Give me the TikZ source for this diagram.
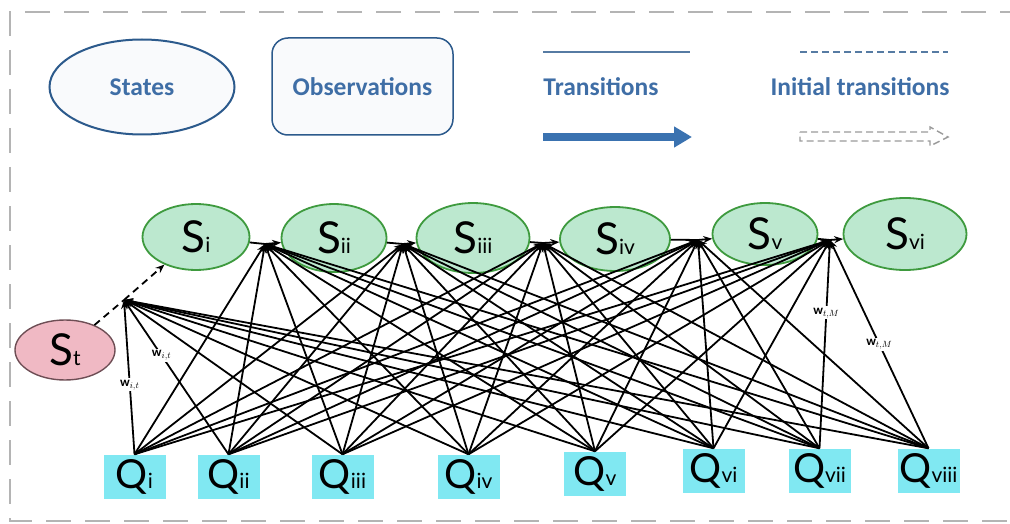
\documentclass[tikz,border=0pt]{standalone}
\usepackage{fontspec}
\setmainfont{Carlito}
\newfontfamily\nodefont{Lato}
\usetikzlibrary{arrows.meta,shapes.geometric}
\definecolor{legblue}{HTML}{2C5A8C}
\definecolor{legtext}{HTML}{3F6EA6}
\definecolor{legfill}{HTML}{F9FAFC}
\definecolor{arrblue}{HTML}{3A72B0}
\definecolor{stategreen}{HTML}{3E9A3E}
\definecolor{statefill}{HTML}{BCE8CF}
\definecolor{initfill}{HTML}{F0B9C4}
\definecolor{initdraw}{HTML}{6E4E55}
\definecolor{obsfill}{HTML}{80E8F2}
\definecolor{bordergray}{HTML}{B4B4B4}
\definecolor{dashgray}{HTML}{9A9A9A}
\newcommand\stxt[1]{{\nodefont\fontsize{44}{44}\selectfont S\fontsize{21}{21}\selectfont #1}}
\newcommand\qtxt[1]{{\nodefont\fontsize{40}{40}\selectfont Q\fontsize{21}{21}\selectfont #1}}
\begin{document}
\begin{tikzpicture}[x=1pt,y=-1pt,
  stnode/.style={ellipse, draw=stategreen, line width=1.8pt, fill=statefill, inner sep=0pt},
  obsnode/.style={rectangle, fill=obsfill, minimum width=62pt, minimum height=44pt, inner sep=0pt},
  wire/.style={line width=1.8pt, -{Stealth[length=9pt,width=7pt]}},
  chain/.style={line width=1.8pt},
  wlabel/.style={fill=white, inner sep=1.5pt, font=\fontsize{13}{13}\selectfont},
  legtxt/.style={text=legtext, font=\bfseries\fontsize{25.5}{25.5}\selectfont},
  border/.style={draw=bordergray, line width=2.5pt, dash pattern=on 25pt off 14pt}
]
\useasboundingbox (0,0) rectangle (1010,524);
% border
\coordinate (b1) at (1025,12);
\coordinate (b2) at (10,12);
\coordinate (b3) at (10,521);
\coordinate (b4) at (1025,521);
\draw[border] (b1) -- (b2) -- (b3) -- (b4);

% legend
\node[ellipse, draw=legblue, line width=2pt, fill=legfill, minimum width=185pt, minimum height=95pt, inner sep=0pt] (lgs) at (142,87) {};
\node[legtxt] (lgst) at (142,87) {States};
\node[rectangle, rounded corners=16pt, draw=legblue, line width=1.5pt, fill=legfill, minimum width=181pt, minimum height=97pt, inner sep=0pt] (lgo) at (362.5,86.5) {};
\node[legtxt] (lgot) at (362.5,87) {Observations};
\coordinate (t1) at (543,52); \coordinate (t2) at (690,52);
\draw[legblue!80, line width=1.5pt] (t1) -- (t2);
\node[legtxt] (tt) at (601,87) {Transitions};
\coordinate (ta1) at (543,137); \coordinate (ta2) at (692,137);
\draw[arrblue, line width=8pt, -{Triangle[length=18pt,width=20pt]}] (ta1) -- (ta2);
\coordinate (i1) at (800,52); \coordinate (i2) at (948,52);
\draw[legblue!80, line width=1.5pt, dash pattern=on 7pt off 4pt] (i1) -- (i2);
\node[legtxt] (it) at (860,87) {Initial transitions};
\draw[dashgray, line width=1.4pt, dash pattern=on 7pt off 4pt]
  (800,132) -- (930,132) -- (930,127) -- (948,137) -- (930,146) -- (930,141) -- (800,141) -- cycle;

% states
\node[stnode, minimum width=107pt, minimum height=66pt] (S1) at (196,237) {\stxt{i}};
\node[stnode, minimum width=105pt, minimum height=68pt] (S2) at (334,238) {\stxt{ii}};
\node[stnode, minimum width=113pt, minimum height=70pt] (S3) at (473,238) {\stxt{iii}};
\node[stnode, minimum width=110pt, minimum height=64pt] (S4) at (615,239) {\stxt{iv}};
\node[stnode, minimum width=105pt, minimum height=62pt] (S5) at (765,234) {\stxt{v}};
\node[stnode, minimum width=123pt, minimum height=72pt] (S6) at (905,234) {\stxt{vi}};
\node[ellipse, draw=initdraw, line width=1.4pt, fill=initfill, minimum width=100pt, minimum height=60pt, inner sep=0pt] (St) at (65,350) {\stxt{t}};

% junctions
\coordinate (J0) at (124,300);
\coordinate (J1) at (265,244);
\coordinate (J2) at (403,244);
\coordinate (J3) at (543,243);
\coordinate (J4) at (698,240);
\coordinate (J5) at (830,240);

% chain
\draw[line width=1.8pt, dash pattern=on 7pt off 5pt] (St) -- (J0);
\draw[line width=1.8pt, dash pattern=on 7pt off 5pt, -{Stealth[length=9pt,width=7pt]}] (J0) -- (S1);
\draw[chain] (S1) -- (J1);
\draw[chain, -{Stealth[length=9pt,width=7pt]}] (J1) -- (S2);
\draw[chain] (S2) -- (J2);
\draw[chain, -{Stealth[length=9pt,width=7pt]}] (J2) -- (S3);
\draw[chain] (S3) -- (J3);
\draw[chain, -{Stealth[length=9pt,width=7pt]}] (J3) -- (S4);
\draw[chain] (S4) -- (J4);
\draw[chain, -{Stealth[length=9pt,width=7pt]}] (J4) -- (S5);
\draw[chain] (S5) -- (J5);
\draw[chain, -{Stealth[length=9pt,width=7pt]}] (J5) -- (S6);

% observations
\node[obsnode] (Q1) at (134.5,476.5) {\qtxt{i}};
\node[obsnode] (Q2) at (228.5,476.5) {\qtxt{ii}};
\node[obsnode] (Q3) at (342.5,476.5) {\qtxt{iii}};
\node[obsnode] (Q4) at (468.5,476.5) {\qtxt{iv}};
\node[obsnode] (Q5) at (595,473.5) {\qtxt{v}};
\node[obsnode] (Q6) at (713.5,470.5) {\qtxt{vi}};
\node[obsnode] (Q7) at (819.5,470.5) {\qtxt{vii}};
\node[obsnode] (Q8) at (928.5,470.5) {\qtxt{viii}};

% emission wires
\foreach \q in {3,...,8} {
  \draw[wire] (Q\q.north) -- (J0);
}
\draw[wire] (Q1.north) -- node[wlabel, pos=0.45] (w1) {$\mathbf{w}_{i,t}$} (J0);
\draw[wire] (Q2.north) -- node[wlabel, pos=0.64] (w2) {$\mathbf{w}_{i,t}$} (J0);
\foreach \j in {1,...,4} {
  \foreach \q in {1,...,8} {
    \draw[wire] (Q\q.north) -- (J\j);
  }
}
\foreach \q in {1,...,6} {
  \draw[wire] (Q\q.north) -- (J5);
}
\draw[wire] (Q7.north) -- node[wlabel, pos=0.65] (w3) {$\mathbf{w}_{t,M}$} (J5);
\draw[wire] (Q8.north) -- node[wlabel, pos=0.5] (w4) {$\mathbf{w}_{t,M}$} (J5);
\end{tikzpicture}
\end{document}
